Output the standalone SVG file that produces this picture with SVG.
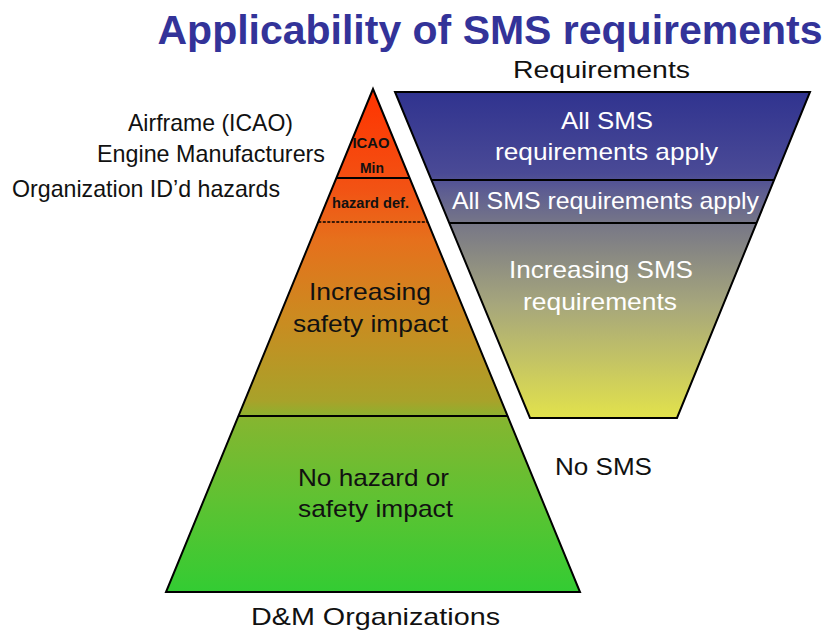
<svg xmlns="http://www.w3.org/2000/svg" width="826" height="634" viewBox="0 0 826 634">
<defs>
<linearGradient id="gPyr" gradientUnits="userSpaceOnUse" x1="0" y1="89" x2="0" y2="592">
<stop offset="0" stop-color="#ff3300"/>
<stop offset="0.2" stop-color="#f25314"/>
<stop offset="0.3" stop-color="#e6701c"/>
<stop offset="0.45" stop-color="#cc8a20"/>
<stop offset="0.62" stop-color="#a8a22a"/>
<stop offset="0.66" stop-color="#84b630"/>
<stop offset="0.82" stop-color="#5ec232"/>
<stop offset="1" stop-color="#33cc33"/>
</linearGradient>
<linearGradient id="gInv" gradientUnits="userSpaceOnUse" x1="0" y1="92" x2="0" y2="418">
<stop offset="0" stop-color="#30338f"/>
<stop offset="0.25" stop-color="#4a4a96"/>
<stop offset="0.3" stop-color="#5c5c92"/>
<stop offset="0.42" stop-color="#7a7a86"/>
<stop offset="0.65" stop-color="#a6a67c"/>
<stop offset="1" stop-color="#e2e24c"/>
</linearGradient>
<style>
.t{font-family:"Liberation Sans",Arial,sans-serif;font-size:24px;fill:#111;text-anchor:middle}
.w{fill:#ffffff}
.s{font-family:"Liberation Sans",Arial,sans-serif;font-size:14px;font-weight:bold;fill:#111;text-anchor:middle}
.edge{fill:none;stroke:#000;stroke-width:2;stroke-linejoin:miter}
.band{stroke:none}
</style>
</defs>
<rect width="826" height="634" fill="#ffffff"/>
<g id="title">
<text x="490" y="44" font-family="Liberation Sans,Arial,sans-serif" font-size="41" font-weight="bold" fill="#333399" text-anchor="middle" textLength="665" lengthAdjust="spacingAndGlyphs">Applicability of SMS requirements</text>
</g>
<g id="pyramid">
<g id="pyr-icao">
<polygon class="band" fill="url(#gPyr)" points="373,89 409.6,178 336.4,178"/>
<text class="s" x="371" y="148" textLength="37" lengthAdjust="spacingAndGlyphs">ICAO</text>
<text class="s" x="372" y="173" textLength="24" lengthAdjust="spacingAndGlyphs">Min</text>
</g>
<g id="pyr-hazard">
<polygon class="band" fill="url(#gPyr)" points="336.4,178 409.6,178 427.7,222 318.3,222"/>
<text class="s" x="370.5" y="208" textLength="77" lengthAdjust="spacingAndGlyphs">hazard def.</text>
</g>
<g id="pyr-increasing">
<polygon class="band" fill="url(#gPyr)" points="318.3,222 427.7,222 507.6,416 238.4,416"/>
<text class="t" x="370" y="300" textLength="122" lengthAdjust="spacingAndGlyphs">Increasing</text>
<text class="t" x="370.5" y="332" textLength="155" lengthAdjust="spacingAndGlyphs">safety impact</text>
</g>
<g id="pyr-nohazard">
<polygon class="band" fill="url(#gPyr)" points="238.4,416 507.6,416 580,592 166,592"/>
<text class="t" x="373.5" y="486" textLength="151" lengthAdjust="spacingAndGlyphs">No hazard or</text>
<text class="t" x="375.5" y="517" textLength="155" lengthAdjust="spacingAndGlyphs">safety impact</text>
</g>
<polygon class="edge" points="373,89 580,592 166,592"/>
<line x1="336.4" y1="178" x2="409.6" y2="178" stroke="#000" stroke-width="2"/>
<line x1="318.3" y1="222" x2="427.7" y2="222" stroke="#000" stroke-width="1.5" stroke-dasharray="3,1.5"/>
<line x1="238.4" y1="416" x2="507.6" y2="416" stroke="#000" stroke-width="2"/>
</g>
<g id="requirements">
<g id="req-all1">
<polygon class="band" fill="url(#gInv)" points="395,92 810,92 774,180 431.4,180"/>
<text class="t w" x="607" y="129" textLength="92" lengthAdjust="spacingAndGlyphs">All SMS</text>
<text class="t w" x="606.5" y="160" textLength="223" lengthAdjust="spacingAndGlyphs">requirements apply</text>
</g>
<g id="req-all2">
<polygon class="band" fill="url(#gInv)" points="431.4,180 774,180 756.5,223 449.2,223"/>
<text class="t w" x="605.5" y="209" textLength="307" lengthAdjust="spacingAndGlyphs">All SMS requirements apply</text>
</g>
<g id="req-increasing">
<polygon class="band" fill="url(#gInv)" points="449.2,223 756.5,223 677,418 530,418"/>
<text class="t w" x="601" y="278" textLength="184" lengthAdjust="spacingAndGlyphs">Increasing SMS</text>
<text class="t w" x="600" y="310" textLength="154" lengthAdjust="spacingAndGlyphs">requirements</text>
</g>
<polygon class="edge" points="395,92 810,92 677,418 530,418"/>
<line x1="431.4" y1="180" x2="774" y2="180" stroke="#000" stroke-width="2"/>
<line x1="449.2" y1="223" x2="756.5" y2="223" stroke="#000" stroke-width="2"/>
</g>
<g id="labels">
<text class="t" x="601.5" y="78" textLength="177" lengthAdjust="spacingAndGlyphs">Requirements</text>
<text class="t" x="210.5" y="131" textLength="165" lengthAdjust="spacingAndGlyphs">Airframe (ICAO)</text>
<text class="t" x="211" y="162" textLength="228" lengthAdjust="spacingAndGlyphs">Engine Manufacturers</text>
<text class="t" x="146" y="197" textLength="268" lengthAdjust="spacingAndGlyphs">Organization ID’d hazards</text>
<text class="t" x="603.5" y="475" textLength="97" lengthAdjust="spacingAndGlyphs">No SMS</text>
<text class="t" x="375.5" y="625" textLength="249" lengthAdjust="spacingAndGlyphs">D&amp;M Organizations</text>
</g>
</svg>
